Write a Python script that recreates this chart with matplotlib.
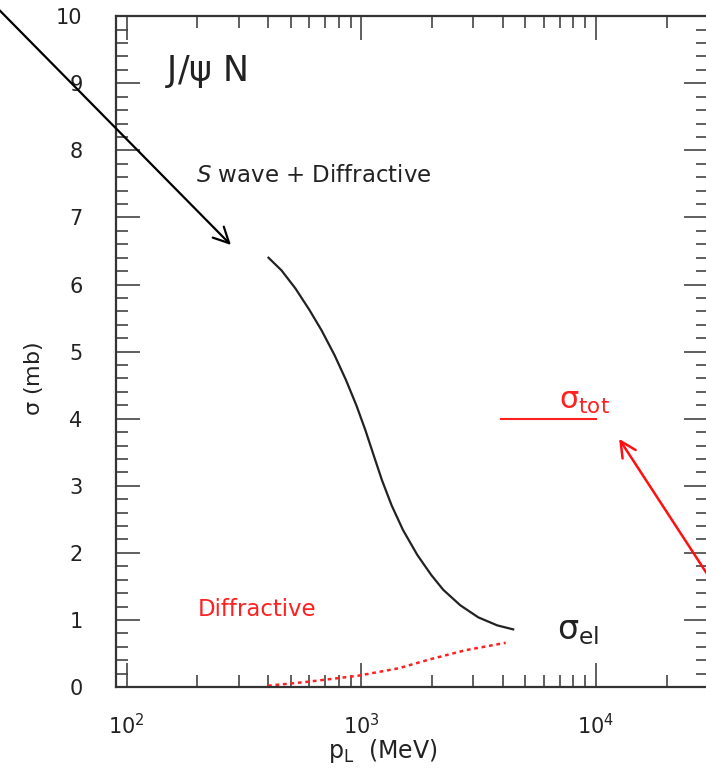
import numpy as np
import matplotlib as mpl
mpl.use('Agg')
import matplotlib.pyplot as plt
from matplotlib.ticker import MultipleLocator, LogLocator

# S wave + diffractive elastic cross section (black curve)
p_el = [402, 457, 524, 601, 676, 768, 859, 952, 1040, 1127, 1225, 1345,
        1505, 1731, 1986, 2233, 2638, 3147, 3791, 4436]
sig_el = [6.40, 6.21, 5.94, 5.62, 5.32, 4.95, 4.58, 4.20, 3.83, 3.46, 3.08,
          2.71, 2.34, 1.97, 1.67, 1.45, 1.22, 1.04, 0.92, 0.86]

# diffractive part only (red dotted)
p_dif = [400, 594, 971, 1439, 1991, 2781, 4121]
sig_dif = [0.02, 0.08, 0.17, 0.28, 0.42, 0.55, 0.66]

# total cross section estimate (red segment)
p_tot = [3950, 10000]
sig_tot = [4.0, 4.0]

xlim = (90, 30000)
ylim = (0, 10)

plt.rcParams['font.family'] = ['DejaVu Sans']
plt.rcParams['mathtext.default'] = 'regular'

fig = plt.figure(figsize=(7.06, 7.72), dpi=100)
ax = fig.add_axes([0.1643, 0.110, 0.8385, 0.869])

ax.plot(p_el, sig_el, color='#222222', lw=1.6, solid_joinstyle='round')
ax.plot(p_dif, sig_dif, color='#ff2020', lw=1.8, ls=(0, (1.5, 1.5)))
ax.plot(p_tot, sig_tot, color='#ff2020', lw=1.5)

ax.set_xscale('log')
ax.set_xlim(*xlim)
ax.set_ylim(*ylim)
ax.xaxis.set_major_locator(LogLocator(base=10))
ax.xaxis.set_minor_locator(LogLocator(base=10, subs=np.arange(2, 10)))
ax.yaxis.set_major_locator(MultipleLocator(1))
ax.yaxis.set_minor_locator(MultipleLocator(0.2))

for s in ax.spines.values():
    s.set_linewidth(1.6)
    s.set_color('#333333')
ax.tick_params(which='both', direction='in', top=True, right=True,
               color='#444444', width=1.2)
ax.tick_params(which='major', length=17)
ax.tick_params(which='minor', length=8.5)
ax.tick_params(axis='y', which='major', pad=24, labelsize=15, labelcolor='#222222')
ax.tick_params(axis='x', which='major', pad=19, labelsize=15, labelcolor='#222222')

ax.set_ylabel(r'$\mathrm{\sigma}$ (mb)', fontsize=16, color='#222222')
ax.yaxis.set_label_coords(-0.12, 0.46)
ax.set_xlabel(r'$\mathrm{p_L}$  (MeV)', fontsize=17, color='#222222')
ax.xaxis.set_label_coords(0.45, -0.075)

ax.text(145, 9.17, r'J/$\mathrm{\psi}$ N', fontsize=25, color='#222222',
        ha='left', va='center')
ax.text(197, 7.63, r'$\it{S}$ wave + Diffractive', fontsize=16.5, color='#222222',
        ha='left', va='center')
ax.text(201, 1.15, 'Diffractive', fontsize=16.5, color='#ff2020',
        ha='left', va='center')
ax.text(6810, 0.85, r'$\mathrm{\sigma_{el}}$', fontsize=24, color='#222222',
        ha='left', va='center')
ax.text(6950, 4.25, r'$\mathrm{\sigma_{tot}}$', fontsize=22, color='#ff2020',
        ha='left', va='center')

# arrows pointing into the plot from outside the frame
ax.annotate('', xy=(278, 6.59), xytext=(26.7, 10.2), annotation_clip=False,
            arrowprops=dict(arrowstyle='->', color='black', lw=1.6,
                            mutation_scale=28, shrinkA=0, shrinkB=0))
ax.annotate('', xy=(12540, 3.70), xytext=(31000, 1.59), annotation_clip=False,
            arrowprops=dict(arrowstyle='->', color='#ff1010', lw=1.8,
                            mutation_scale=28, shrinkA=0, shrinkB=0))

fig.savefig('out.png', dpi=100)
